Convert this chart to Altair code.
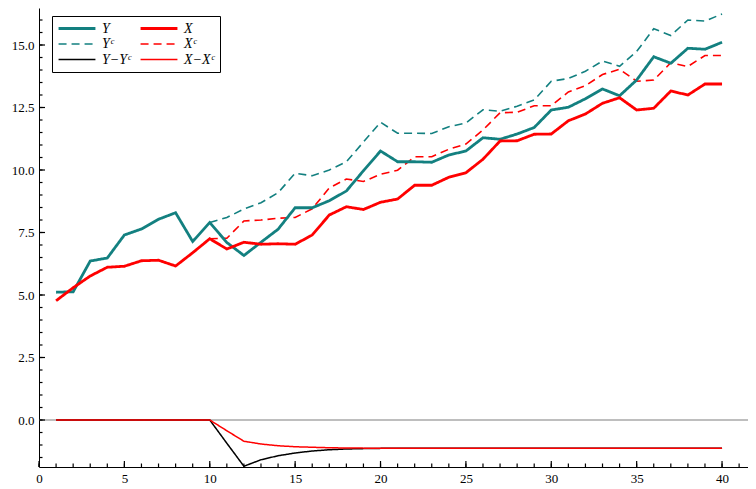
import altair as alt
import pandas as pd

# ---------------- data ----------------
t_all = list(range(1, 41))
t_cf = list(range(10, 41))

y_vals = [5.11, 5.13, 6.36, 6.48, 7.40, 7.64, 8.03, 8.29, 7.14, 7.90,
          7.10, 6.58, 7.11, 7.63, 8.49, 8.49, 8.77, 9.16, 9.97, 10.76,
          10.33, 10.33, 10.31, 10.60, 10.76, 11.29, 11.23, 11.44, 11.70, 12.40,
          12.51, 12.85, 13.24, 12.97, 13.60, 14.53, 14.27, 14.87, 14.83, 15.11]

x_vals = [4.77, 5.29, 5.76, 6.11, 6.15, 6.37, 6.39, 6.16, 6.69, 7.25,
          6.84, 7.11, 7.03, 7.05, 7.03, 7.40, 8.20, 8.53, 8.42, 8.71,
          8.84, 9.39, 9.39, 9.71, 9.89, 10.43, 11.16, 11.17, 11.43, 11.44,
          11.97, 12.24, 12.67, 12.89, 12.40, 12.47, 13.16, 13.00, 13.44, 13.44]

yc_vals = [7.90, 8.10, 8.44, 8.69, 9.09, 9.87, 9.77, 10.00, 10.33, 11.12,
           11.91, 11.47, 11.47, 11.46, 11.73, 11.88, 12.41, 12.35, 12.55, 12.80,
           13.55, 13.66, 13.95, 14.36, 14.15, 14.74, 15.65, 15.38, 16.00, 15.96,
           16.24]

xc_vals = [7.25, 7.27, 7.96, 8.00, 8.07, 8.10, 8.45, 9.28, 9.64, 9.54,
           9.83, 9.99, 10.53, 10.53, 10.83, 11.04, 11.60, 12.29, 12.31, 12.57,
           12.57, 13.12, 13.37, 13.82, 14.03, 13.55, 13.60, 14.29, 14.14, 14.58,
           14.58]

y_gap = [0, 0, 0, 0, 0, 0, 0, 0, 0, 0,
         -0.93, -1.85, -1.59, -1.43, -1.32, -1.24, -1.19, -1.16, -1.145, -1.135,
         -1.13, -1.13, -1.13, -1.13, -1.13, -1.13, -1.13, -1.13, -1.13, -1.13,
         -1.13, -1.13, -1.13, -1.13, -1.13, -1.13, -1.13, -1.13, -1.13, -1.13]

x_gap = [0, 0, 0, 0, 0, 0, 0, 0, 0, 0,
         -0.43, -0.85, -0.96, -1.03, -1.07, -1.09, -1.11, -1.12, -1.125, -1.13,
         -1.13, -1.13, -1.13, -1.13, -1.13, -1.13, -1.13, -1.13, -1.13, -1.13,
         -1.13, -1.13, -1.13, -1.13, -1.13, -1.13, -1.13, -1.13, -1.13, -1.13]

# legend order: column 1 = Y family, column 2 = X family
series_names = ["Y", "Yᶜ", "Y−Yᶜ", "X", "Xᶜ", "X−Xᶜ"]
series_colors = ["#138080", "#138080", "#000000", "#ff0000", "#ff0000", "#ff0000"]
series_dash = [[1, 0], [8, 5], [1, 0], [1, 0], [8, 5], [1, 0]]
series_width = [2.8, 1.6, 1.5, 2.8, 1.6, 1.5]

x_major = [0, 5, 10, 15, 20, 25, 30, 35, 40]
y_major = [0.0, 2.5, 5.0, 7.5, 10.0, 12.5, 15.0]
x_minor = list(range(0, 42))
y_minor = [v / 2 for v in range(-3, 33)]

X_MIN, X_MAX = 0, 41.52
Y_MIN, Y_MAX = -1.88, 16.48

# ---------------- tables ----------------
rows = []
for name, ts, vs in [("Y", t_all, y_vals), ("X", t_all, x_vals),
                     ("Yᶜ", t_cf, yc_vals), ("Xᶜ", t_cf, xc_vals),
                     ("Y−Yᶜ", t_all, y_gap), ("X−Xᶜ", t_all, x_gap)]:
    for t, v in zip(ts, vs):
        rows.append({"t": t, "v": v, "s": name})
df = pd.DataFrame(rows)
zero_df = pd.DataFrame({"zero": [0.0]})
xmajor_df = pd.DataFrame({"t": x_major, "v": [Y_MIN] * len(x_major)})
xminor_df = pd.DataFrame({"t": x_minor, "v": [Y_MIN] * len(x_minor)})
ymajor_df = pd.DataFrame({"t": [X_MIN] * len(y_major), "v": y_major})
yminor_df = pd.DataFrame({"t": [X_MIN] * len(y_minor), "v": y_minor})

FONT = "Liberation Serif"

x_scale = alt.Scale(domain=[X_MIN, X_MAX], nice=False, zero=False)
y_scale = alt.Scale(domain=[Y_MIN, Y_MAX], nice=False, zero=False)

# axis with domain line and labels (inward ticks drawn as rules below)
label_x_axis = alt.Axis(orient="bottom", values=x_major, format="d", title=None,
                        grid=False, ticks=False, labelPadding=5,
                        domainColor="black", labelColor="black", domainWidth=1,
                        labelFont=FONT, labelFontSize=13, labelFlush=False,
                        labelOverlap=False)
label_y_axis = alt.Axis(orient="left", values=y_major, format=".1f", title=None,
                        grid=False, ticks=False, labelPadding=5,
                        domainColor="black", labelColor="black", domainWidth=1,
                        labelFont=FONT, labelFontSize=13, labelFlush=False,
                        labelOverlap=False)

legend = alt.Legend(title=None, orient="none", legendX=13, legendY=8, columns=2,
                    direction="vertical",
                    symbolType="stroke", symbolSize=1360, clipHeight=15,
                    rowPadding=0.5, columnPadding=8, labelOffset=5,
                    labelFont=FONT, labelFontStyle="italic", labelFontSize=14,
                    labelColor="black", padding=5, strokeColor="black",
                    fillColor="white", cornerRadius=0, symbolOffset=0)

enc_color = alt.Color("s:N", scale=alt.Scale(domain=series_names, range=series_colors), legend=legend)
enc_dash = alt.StrokeDash("s:N", scale=alt.Scale(domain=series_names, range=series_dash), legend=legend)
enc_width = alt.StrokeWidth("s:N", scale=alt.Scale(type="ordinal", domain=series_names, range=series_width),
                            legend=legend)


def series_layer(name, xaxis=None, yaxis=None):
    return alt.Chart(df).transform_filter(alt.datum.s == name).mark_line().encode(
        x=alt.X("t:Q", scale=x_scale, axis=xaxis),
        y=alt.Y("v:Q", scale=y_scale, axis=yaxis),
        color=enc_color, strokeDash=enc_dash, strokeWidth=enc_width,
    )


def x_tick_layer(data, length):
    return alt.Chart(data).mark_rule(color="black", strokeWidth=1.2, y2Offset=-length).encode(
        x=alt.X("t:Q", scale=x_scale, axis=None),
        y=alt.Y("v:Q", scale=y_scale, axis=None),
        y2="v:Q",
    )


def y_tick_layer(data, length):
    return alt.Chart(data).mark_rule(color="black", strokeWidth=1.2, x2Offset=length).encode(
        x=alt.X("t:Q", scale=x_scale, axis=None),
        x2="t:Q",
        y=alt.Y("v:Q", scale=y_scale, axis=None),
    )


zero_rule = alt.Chart(zero_df).mark_rule(color="#a8a8a8", strokeWidth=1.5).encode(
    y=alt.Y("zero:Q", scale=y_scale, axis=None)
)

layers = [
    zero_rule,
    x_tick_layer(xminor_df, 3.5),
    x_tick_layer(xmajor_df, 6),
    y_tick_layer(yminor_df, 3.5),
    y_tick_layer(ymajor_df, 6),
    series_layer("Y−Yᶜ"),
    series_layer("X−Xᶜ"),
    series_layer("Yᶜ"),
    series_layer("Xᶜ"),
    series_layer("Y", label_x_axis, label_y_axis),
    series_layer("X"),
]

chart = alt.layer(*layers).resolve_axis(x="independent", y="independent").properties(
    width=709, height=459,
    autosize=alt.AutoSizeParams(type="none"),
    padding={"left": 31, "top": 0, "right": 0, "bottom": 18},
    background="white",
).configure_view(stroke=None)

chart.save("out.html", embed_options={"renderer": "svg", "actions": False})
